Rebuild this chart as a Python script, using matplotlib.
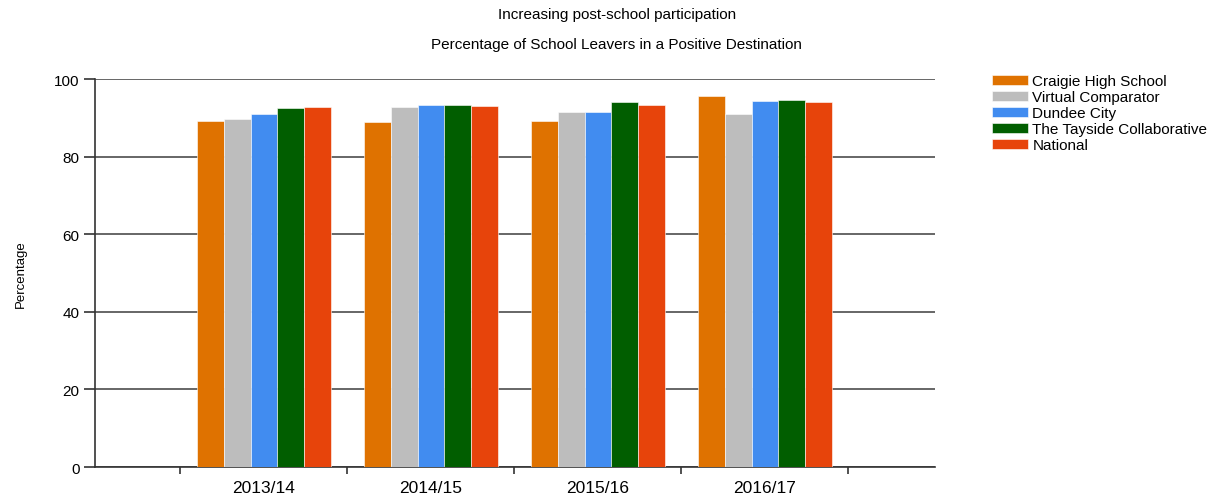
import matplotlib.pyplot as plt
import numpy as np

plt.rcParams['font.family'] = ['Liberation Sans', 'DejaVu Sans']

years = ['2013/14', '2014/15', '2015/16', '2016/17']
series = ['Craigie High School', 'Virtual Comparator', 'Dundee City',
          'The Tayside Collaborative', 'National']
craigie = [89.3, 89.0, 89.3, 95.5]
virtual = [89.8, 92.8, 91.6, 91.0]
dundee = [91.0, 93.4, 91.6, 94.3]
tayside = [92.5, 93.4, 94.0, 94.6]
national = [92.8, 93.1, 93.3, 94.0]
colors = ['#DF7200', '#BDBDBD', '#418CF0', '#015E00', '#E7440B']

values = [craigie, virtual, dundee, tayside, national]

fig = plt.figure(figsize=(12.26, 5.02), dpi=100)
ax = fig.add_axes([0.0775, 0.0677, 0.685, 0.7729])

x = np.arange(len(years))
w = 0.16
for i, (name, vals) in enumerate(zip(series, values)):
    ax.bar(x + (i - 2) * w, vals, w, color=colors[i], label=name,
           edgecolor='white', linewidth=0.4, zorder=3)

ax.set_ylim(0, 100)
ax.set_xlim(-1.012, 4.018)
ax.set_yticks([0, 20, 40, 60, 80, 100])
ax.set_xticks(x)
ax.set_xticklabels(years, fontsize=12.5)
ax.set_xticks(np.arange(-0.5, 4, 1), minor=True)
ax.tick_params(axis='x', which='major', length=0, pad=9)
ax.tick_params(axis='x', which='minor', length=5, width=1.2, color='#333333')
ax.tick_params(axis='y', labelsize=11, length=8, pad=3, width=1.2,
               color='#333333')
ax.grid(axis='y', color='#5a5a5a', linewidth=1.3, zorder=1)
for s in ['top', 'right']:
    ax.spines[s].set_visible(False)
for s in ['left', 'bottom']:
    ax.spines[s].set_color('#333333')
    ax.spines[s].set_linewidth(1.2)
ax.set_ylabel('Percentage', fontsize=9.5, labelpad=20)

fig.text(0.503, 0.970, 'Increasing post-school participation', ha='center',
         va='center', fontsize=11)
fig.text(0.503, 0.910, 'Percentage of School Leavers in a Positive Destination',
         ha='center', va='center', fontsize=11)

fig.legend(loc='upper left', bbox_to_anchor=(0.804, 0.862), frameon=False,
           fontsize=11, handlelength=2.35, handleheight=0.7,
           labelspacing=0.13, handletextpad=0.3, borderaxespad=0)

fig.savefig('out.png', dpi=100)
